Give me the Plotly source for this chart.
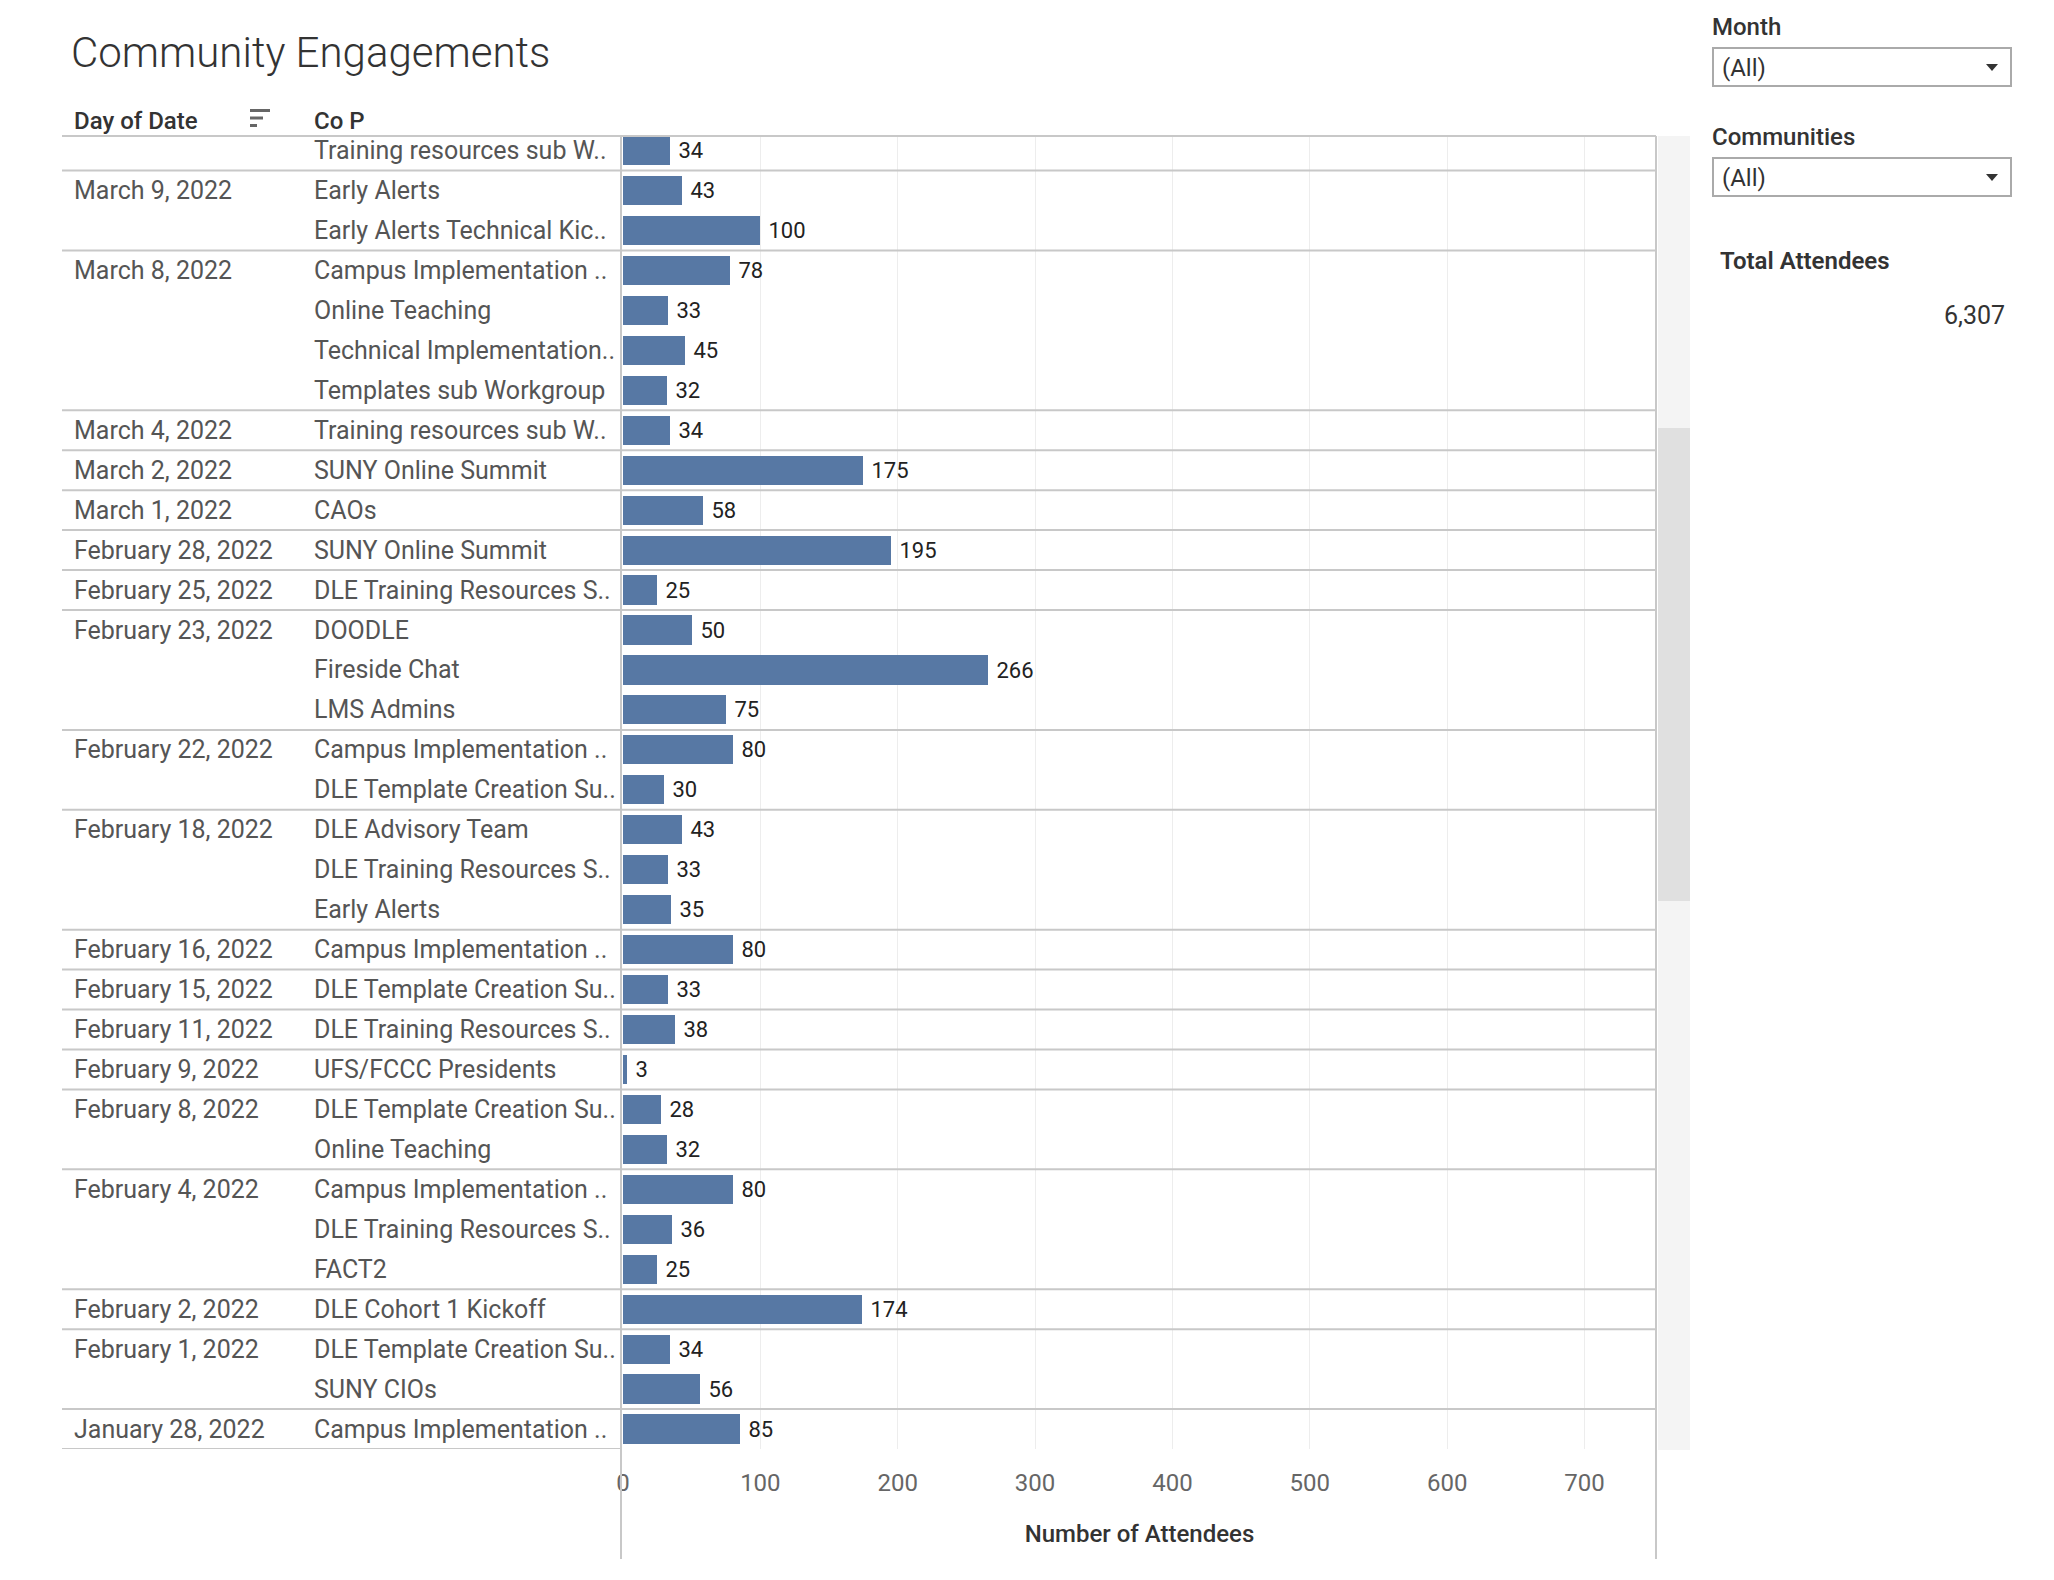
import plotly.graph_objects as go

# ---------------- data ----------------
dates = ["", "March 9, 2022", "", "March 8, 2022", "", "", "", "March 4, 2022",
         "March 2, 2022", "March 1, 2022", "February 28, 2022", "February 25, 2022",
         "February 23, 2022", "", "", "February 22, 2022", "", "February 18, 2022", "", "",
         "February 16, 2022", "February 15, 2022", "February 11, 2022", "February 9, 2022",
         "February 8, 2022", "", "February 4, 2022", "", "", "February 2, 2022",
         "February 1, 2022", "", "January 28, 2022"]
cops = ["Training resources sub W..", "Early Alerts", "Early Alerts Technical Kic..",
        "Campus Implementation ..", "Online Teaching", "Technical Implementation..",
        "Templates sub Workgroup", "Training resources sub W..", "SUNY Online Summit",
        "CAOs", "SUNY Online Summit", "DLE Training Resources S..", "DOODLE",
        "Fireside Chat", "LMS Admins", "Campus Implementation ..", "DLE Template Creation Su..",
        "DLE Advisory Team", "DLE Training Resources S..", "Early Alerts",
        "Campus Implementation ..", "DLE Template Creation Su..", "DLE Training Resources S..",
        "UFS/FCCC Presidents", "DLE Template Creation Su..", "Online Teaching",
        "Campus Implementation ..", "DLE Training Resources S..", "FACT2",
        "DLE Cohort 1 Kickoff", "DLE Template Creation Su..", "SUNY CIOs",
        "Campus Implementation .."]
attendees = [34, 43, 100, 78, 33, 45, 32, 34, 175, 58, 195, 25, 50, 266, 75, 80, 30,
             43, 33, 35, 80, 33, 38, 3, 28, 32, 80, 36, 25, 174, 34, 56, 85]
x_ticks = [0, 100, 200, 300, 400, 500, 600, 700]
filter_names = ["Month", "Communities"]
filter_values = ["(All)", "(All)"]
total_label = "Total Attendees"
total_value = "6,307"
title_text = "Community Engagements"
header_date = "Day of Date"
header_cop = "Co P"
axis_title = "Number of Attendees"

rows = list(range(len(attendees)))

# ---------------- layout helpers ----------------
FW, FH = 2054, 1580
X0, X1 = 623, 1656
Y0, Y1 = 136, 1449
PW, PH = X1 - X0, Y1 - Y0


def px(x):
    return (x - X0) / PW


def py(y):
    return (Y1 - y) / PH


FONT = "Roboto"
LINE = "#c8c8c8"

fig = go.Figure()
fig.add_trace(go.Bar(
    x=attendees, y=rows, orientation="h",
    marker=dict(color="#5778a4", line=dict(width=0)),
    width=0.73,
    texttemplate="\u00a0%{x}", textposition="outside",
    textfont=dict(family=FONT, size=22, color="#222"),
    constraintext="none", cliponaxis=False, hoverinfo="skip",
))

annotations = []
shapes = []

# title
annotations.append(dict(text=title_text, xref="paper", yref="paper", x=px(69), y=py(53),
                        xanchor="left", yanchor="middle", showarrow=False,
                        font=dict(family=FONT, size=42, color="#333", weight=300)))
# headers
for txt, xx in [(header_date, 72), (header_cop, 312)]:
    annotations.append(dict(text=txt, xref="paper", yref="paper", x=px(xx), y=py(121),
                            xanchor="left", yanchor="middle", showarrow=False,
                            font=dict(family=FONT, size=24, color="#333", weight=500)))
# sort icon
for (a, b, c) in [(270, 109, 112), (263, 116.5, 119.5), (257, 124, 127)]:
    shapes.append(dict(type="rect", xref="paper", yref="paper", x0=px(250), x1=px(a),
                       y0=py(b), y1=py(c), fillcolor="#666", line=dict(width=0)))

# row labels
for i in rows:
    if dates[i]:
        annotations.append(dict(text=dates[i], xref="paper", yref="y", x=px(72), y=i,
                                xanchor="left", yanchor="middle", showarrow=False,
                                font=dict(family=FONT, size=25, color="#555")))
    annotations.append(dict(text=cops[i], xref="paper", yref="y", x=px(312), y=i,
                            xanchor="left", yanchor="middle", showarrow=False,
                            font=dict(family=FONT, size=25, color="#555")))

# scrollbar
shapes.append(dict(type="rect", xref="paper", yref="paper", x0=px(1658), x1=px(1690),
                   y0=py(136), y1=py(1450), fillcolor="#f4f4f4", line=dict(width=0), layer="below"))
shapes.append(dict(type="rect", xref="paper", yref="paper", x0=px(1658), x1=px(1690),
                   y0=py(428), y1=py(901), fillcolor="#e0e0e0", line=dict(width=0), layer="below"))

# header line
shapes.append(dict(type="line", xref="paper", yref="paper", x0=px(62), x1=px(1656),
                   y0=py(136), y1=py(136), line=dict(color=LINE, width=2)))
# group separators
for i in rows:
    if i > 0 and dates[i]:
        shapes.append(dict(type="line", xref="paper", yref="y", x0=px(62), x1=px(1656),
                           y0=i - 0.5, y1=i - 0.5, line=dict(color=LINE, width=2)))
# bottom line of the header pane
shapes.append(dict(type="line", xref="paper", yref="y", x0=px(62), x1=px(622),
                   y0=len(rows) - 0.5, y1=len(rows) - 0.5, line=dict(color=LINE, width=2)))
# vertical pane borders
for xx in (621, 1656):
    shapes.append(dict(type="line", xref="paper", yref="paper", x0=px(xx), x1=px(xx),
                       y0=py(136), y1=py(1559), line=dict(color=LINE, width=2)))

# right panel: filters
for k, (name, val) in enumerate(zip(filter_names, filter_values)):
    off = k * 110
    annotations.append(dict(text=name, xref="paper", yref="paper", x=px(1710), y=py(27 + off),
                            xanchor="left", yanchor="middle", showarrow=False,
                            font=dict(family=FONT, size=24, color="#333", weight=500)))
    shapes.append(dict(type="rect", xref="paper", yref="paper", x0=px(1713), x1=px(2011),
                       y0=py(48 + off), y1=py(86 + off), fillcolor="white",
                       line=dict(color="#aaa", width=2)))
    annotations.append(dict(text=val, xref="paper", yref="paper", x=px(1720), y=py(68 + off),
                            xanchor="left", yanchor="middle", showarrow=False,
                            font=dict(family=FONT, size=24, color="#333")))
    ty = 64 + off
    shapes.append(dict(type="path", xref="paper", yref="paper",
                       path=f"M {px(1986)} {py(ty)} L {px(1998)} {py(ty)} L {px(1992)} {py(ty + 7)} Z",
                       fillcolor="#333", line=dict(width=0)))

annotations.append(dict(text=total_label, xref="paper", yref="paper", x=px(1718), y=py(261),
                        xanchor="left", yanchor="middle", showarrow=False,
                        font=dict(family=FONT, size=24, color="#333", weight=600)))
annotations.append(dict(text=total_value, xref="paper", yref="paper", x=px(2007), y=py(315),
                        xanchor="right", yanchor="middle", showarrow=False,
                        font=dict(family=FONT, size=25, color="#333")))

fig.update_layout(
    width=FW, height=FH, autosize=False,
    margin=dict(l=X0, r=FW - X1, t=Y0, b=FH - Y1, pad=0),
    paper_bgcolor="white", plot_bgcolor="white",
    showlegend=False, bargap=0,
    annotations=annotations, shapes=shapes,
    font=dict(family=FONT),
)
fig.update_xaxes(range=[0, 752], tickvals=x_ticks, showgrid=True, gridcolor="#ededed",
                 gridwidth=1, zeroline=False, showline=False, ticks="",
                 tickfont=dict(family=FONT, size=24, color="#666"), ticklabelstandoff=17,
                 title=dict(text=axis_title, standoff=29,
                            font=dict(family=FONT, size=24, color="#333", weight=500)),
                 fixedrange=True)
fig.update_yaxes(range=[len(rows) - 0.5, -0.365], showgrid=False, zeroline=False,
                 showticklabels=False, ticks="", showline=False, fixedrange=True)

fig.write_html("out.html", config={"displayModeBar": False})
